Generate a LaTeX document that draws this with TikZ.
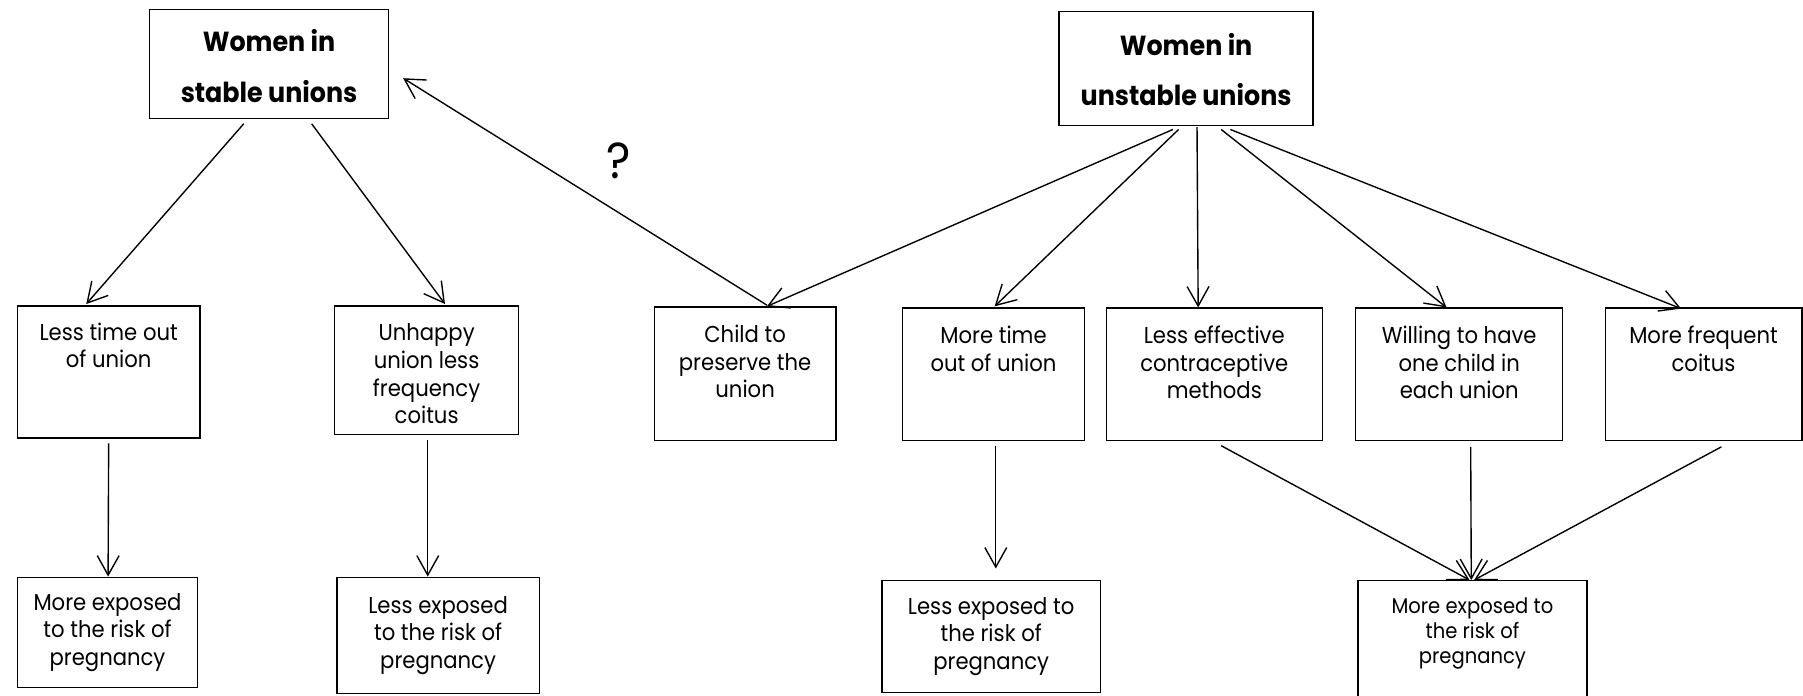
\documentclass[tikz,border=0pt]{standalone}
\usepackage{fontspec}
\setmainfont{Poppins}[FakeStretch=0.92]
\usetikzlibrary{arrows.meta,calc}
\begin{document}
\begin{tikzpicture}[x=1pt,y=-1pt,
  box/.style={draw, line width=1.2pt, inner sep=0pt},
  txt/.style={font=\fontsize{20}{24}\selectfont, align=center, inner sep=0pt},
  ktxt/.style={font=\fontsize{18.5}{22}\selectfont, align=center, inner sep=0pt},
  ttl/.style={font=\fontsize{24}{44}\selectfont\bfseries, align=center, inner sep=0pt},
  arr/.style={-{Straight Barb[length=17pt,width=19pt]}, line width=1.2pt},
]
\useasboundingbox (0,0) rectangle (1568,605);
% top boxes
\node[box, minimum width=208pt, minimum height=95pt] (S) at (234,55.5) {};
\node[ttl] (St) at ($(S.center)+(0,2)$) {Women in\\stable unions};
\node[box, minimum width=221pt, minimum height=99pt] (U) at (1031.5,59.5) {};
\node[ttl] (Ut) at ($(U.center)+(0,1)$) {Women in\\unstable unions};
% middle boxes
\node[box, minimum width=159pt, minimum height=115pt] (A) at (94.5,323.5) {};
\node[txt, anchor=north] (At) at ($(A.north)+(0,15)$) {Less time out\\of union};
\node[box, minimum width=160pt, minimum height=112pt] (B) at (371,322) {};
\node[txt, anchor=north] (Bt) at ($(B.north)+(0,16)$) {Unhappy\\union less\\frequency\\coitus};
\node[box, minimum width=158pt, minimum height=116pt] (C) at (648,325) {};
\node[txt, anchor=north] (Ct) at ($(C.north)+(0,16)$) {Child to\\preserve the\\union};
\node[box, minimum width=158pt, minimum height=115pt] (D) at (864,325.5) {};
\node[txt, anchor=north] (Dt) at ($(D.north)+(0,16)$) {More time\\out of union};
\node[box, minimum width=188pt, minimum height=115pt] (E) at (1056,325.5) {};
\node[txt, anchor=north] (Et) at ($(E.north)+(0,16)$) {Less effective\\contraceptive\\methods};
\node[box, minimum width=180pt, minimum height=115pt] (F) at (1269,325.5) {};
\node[txt, anchor=north] (Ft) at ($(F.north)+(0,16)$) {Willing to have\\one child in\\each union};
\node[box, minimum width=171pt, minimum height=115pt] (G) at (1481.5,325.5) {};
\node[txt, anchor=north] (Gt) at ($(G.north)+(0,16)$) {More frequent\\coitus};
% bottom boxes
\node[box, minimum width=157pt, minimum height=96pt] (H) at (93.5,550) {};
\node[txt] (Ht) at (H.center) {More exposed\\to the risk of\\pregnancy};
\node[box, minimum width=176pt, minimum height=101pt] (I) at (381,552.5) {};
\node[txt] (It) at (I.center) {Less exposed\\to the risk of\\pregnancy};
\node[box, minimum width=190pt, minimum height=97pt] (J) at (862,553.5) {};
\node[txt] (Jt) at (J.center) {Less exposed to\\the risk of\\pregnancy};
\node[box, minimum width=199pt, minimum height=110pt] (K) at (1280.5,560) {};
\node[ktxt, anchor=north] (Kt) at ($(K.north)+(0,15)$) {More exposed to\\the risk of\\pregnancy};
% question mark
\node[font=\fontsize{44}{44}\selectfont, inner sep=0pt] (Q) at (538,140) {?};
% arrows
\draw[arr] ($(S.south)+(-22,4)$) -- ($(A.north)+(-19.5,-1)$);
\draw[arr] ($(S.south)+(37,4)$) -- ($(B.north)+(16,-1)$);
\draw[arr] ($(C.north)+(19,-1)$) -- ($(S.east)+(12,12.5)$);
\draw[arr] ($(U.south)+(-11.5,3)$) -- ($(C.north)+(19,0)$);
\draw[arr] ($(U.south)+(-6.5,3)$) -- ($(D.north)+(1,-1)$);
\draw[arr] ($(U.south)+(9.5,1)$) -- ($(E.north)+(-14,0)$);
\draw[arr] ($(U.south)+(30.5,3)$) -- ($(F.north)+(-11,0)$);
\draw[arr] ($(U.south)+(38.5,3)$) -- ($(G.north)+(-19.5,1)$);
\draw[arr] ($(A.south)+(0,4)$) -- ($(H.north)+(0.5,0)$);
\draw[arr] ($(B.south)+(1,4)$) -- ($(I.north)+(-9,0)$);
\draw[arr] ($(D.south)+(2,4)$) -- ($(J.north)+(4,-10)$);
\draw[arr] ($(E.south)+(6,4)$) -- ($(K.north)+(-2.5,0)$);
\draw[arr] ($(F.south)+(10,5)$) -- ($(K.north)+(-1,0)$);
\draw[arr] ($(G.south)+(15.5,5)$) -- ($(K.north)+(1.5,0)$);
\end{tikzpicture}
\end{document}
